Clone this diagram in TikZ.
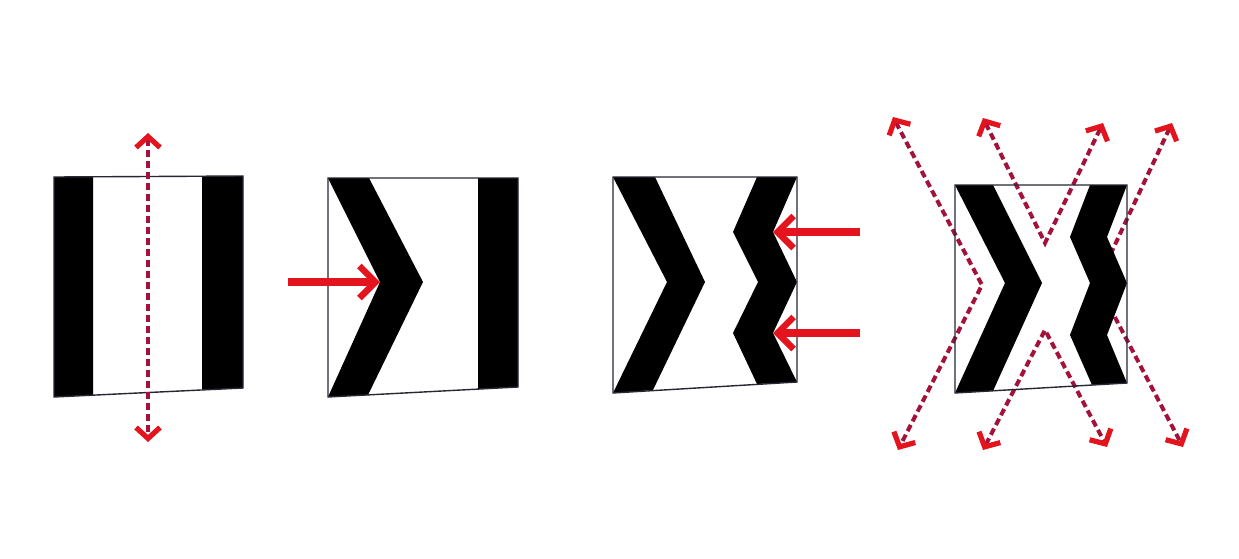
\documentclass[tikz,border=0pt]{standalone}
\usetikzlibrary{arrows.meta,positioning}
\definecolor{pushred}{HTML}{E3141E}
\definecolor{flowred}{HTML}{A3123A}
\definecolor{edgeink}{HTML}{262635}
\begin{document}
\begin{tikzpicture}[
    x=0.5pt, y=-0.5pt,
    box/.style={draw=edgeink, line width=0.7pt},
    band/.style={fill=black},
    push/.style={pushred, line width=4pt, -{Straight Barb[length=8pt, width=16pt, line width=3.2pt]}},
    flow/.style={flowred, line width=2pt, dash pattern=on 3.5pt off 2pt,
        {Straight Barb[color=pushred, length=5.5pt, width=12pt, line width=2.6pt]}-{Straight Barb[color=pushred, length=5.5pt, width=12pt, line width=2.6pt]}}
]
    \useasboundingbox (0,0) rectangle (1239,558);
    \fill[white] (0,0) rectangle (1239,558);

    % Panel 1: two straight bands
    \fill[band] (54,177) -- (93,177) -- (93,395) -- (54,397) -- cycle;
    \fill[band] (202,176) -- (243,176) -- (243,388) -- (202,390) -- cycle;
    \draw[box] (54,177) -- (243,176) -- (243,388) -- (54,397) -- cycle;
    \coordinate (up1) at (148,133);
    \coordinate (dn1) at (148,442);
    \draw[flow] (up1) -- (dn1);

    % Panel 2: one band pushed in
    \fill[band] (328,178) -- (369,178) -- (423,282) -- (368,395) -- (328,397) -- (380,282) -- cycle;
    \fill[band] (478,178) -- (518,178) -- (518,387) -- (478,389) -- cycle;
    \draw[box] (328,178) -- (518,178) -- (518,387) -- (328,397) -- cycle;
    \coordinate (from2) at (288,282);
    \coordinate (tip2) at (380,282);
    \draw[push] (from2) -- (tip2);

    % Panel 3: second band pushed twice
    \fill[band] (613,177) -- (655,177) -- (705,282) -- (653,390) -- (613,393) -- (667,282) -- cycle;
    \fill[band] (757,177) -- (797,177) -- (773,232) -- (797,282) -- (773,333) -- (797,382)
        -- (757,384) -- (733,333) -- (758,282) -- (733,232) -- cycle;
    \draw[box] (613,177) -- (797,177) -- (797,382) -- (613,393) -- cycle;
    \foreach \yy [count=\k] in {232,333} {
        \coordinate (from3\k) at (860,\yy);
        \coordinate (tip3\k) at (773,\yy);
        \draw[push] (from3\k) -- (tip3\k);
    }

    % Panel 4: spreading flows behind the bands
    \coordinate (a1) at (893,117);  \coordinate (a2) at (982,285);  \coordinate (a3) at (898,450);
    \coordinate (b1) at (983,118);  \coordinate (b2) at (1045,243); \coordinate (b3) at (1103,123);
    \coordinate (c1) at (983,450);  \coordinate (c2) at (1045,330); \coordinate (c3) at (1107,447);
    \coordinate (d1) at (1172,123); \coordinate (d2) at (1097,283); \coordinate (d3) at (1183,447);
    \foreach \p in {a,b,c,d} {
        \draw[flow] (\p1) -- (\p2) -- (\p3);
    }
    \fill[band] (955,185) -- (993,185) -- (1042,283) -- (993,391) -- (955,393) -- (1005,283) -- cycle;
    \fill[band] (1090,185) -- (1127,185) -- (1107,237) -- (1127,283) -- (1107,335) -- (1127,383)
        -- (1092,385) -- (1070,335) -- (1090,283) -- (1070,237) -- cycle;
    \draw[box] (955,185) -- (1127,185) -- (1127,383) -- (955,393) -- cycle;
\end{tikzpicture}
\end{document}
